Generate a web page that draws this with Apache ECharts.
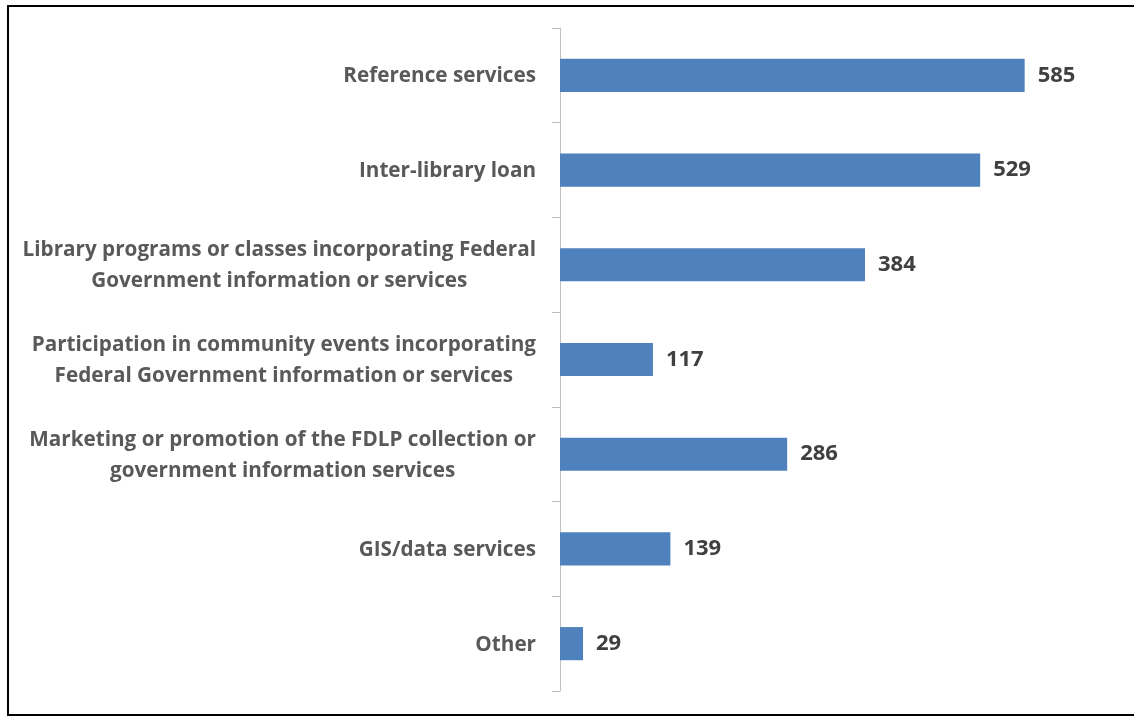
<!DOCTYPE html>
<html>
<head>
<meta charset="utf-8">
<script src="https://cdn.jsdelivr.net/npm/echarts@6/dist/echarts.min.js"></script>
<style>
  html, body { margin: 0; padding: 0; background: #fff; }
  #chart { width: 1134px; height: 717px; }
</style>
</head>
<body>
<div id="chart"></div>
<script>
var categories = [
  'Reference services',
  'Inter-library loan',
  'Library programs or classes incorporating Federal\nGovernment information or services',
  'Participation in community events incorporating\nFederal Government information or services',
  'Marketing or promotion of the FDLP collection or\ngovernment information services',
  'GIS/data services',
  'Other'
];
var values = [585, 529, 384, 117, 286, 139, 29];

var chart = echarts.init(document.getElementById('chart'), null, { renderer: 'canvas' });
var FONT = '"Open Sans", Lato, sans-serif';

chart.setOption({
  animation: false,
  backgroundColor: '#ffffff',
  graphic: [{
    type: 'rect',
    shape: { x: 8, y: 6, width: 1140, height: 709 },
    style: { fill: 'none', stroke: '#000000', lineWidth: 2 },
    silent: true
  }],
  grid: { left: 560, right: 18, top: 28, bottom: 26, containLabel: false },
  xAxis: {
    type: 'value',
    min: 0,
    max: 700,
    show: false
  },
  yAxis: {
    type: 'category',
    inverse: true,
    data: categories,
    axisLine: { show: true, lineStyle: { color: '#BFBFBF', width: 1 } },
    axisTick: { show: true, length: 8, lineStyle: { color: '#BFBFBF' } },
    axisLabel: {
      margin: 24,
      formatter: function (v) {
        return v.split('\n').map(function (l) { return '{c|' + l + '}'; }).join('\n');
      },
      rich: {
        c: {
          align: 'center',
          fontFamily: FONT,
          fontWeight: 'bold',
          fontSize: 20.7,
          color: '#595959',
          lineHeight: 31,
          padding: [2, 0, 0, 0]
        }
      }
    }
  },
  series: [{
    type: 'bar',
    data: values,
    barCategoryGap: '65%',
    itemStyle: { color: '#4F81BD' },
    label: {
      show: true,
      position: 'right',
      distance: 13,
      fontFamily: FONT,
      fontWeight: 'bold',
      fontSize: 22,
      color: '#404040'
    }
  }]
});
</script>
</body>
</html>
